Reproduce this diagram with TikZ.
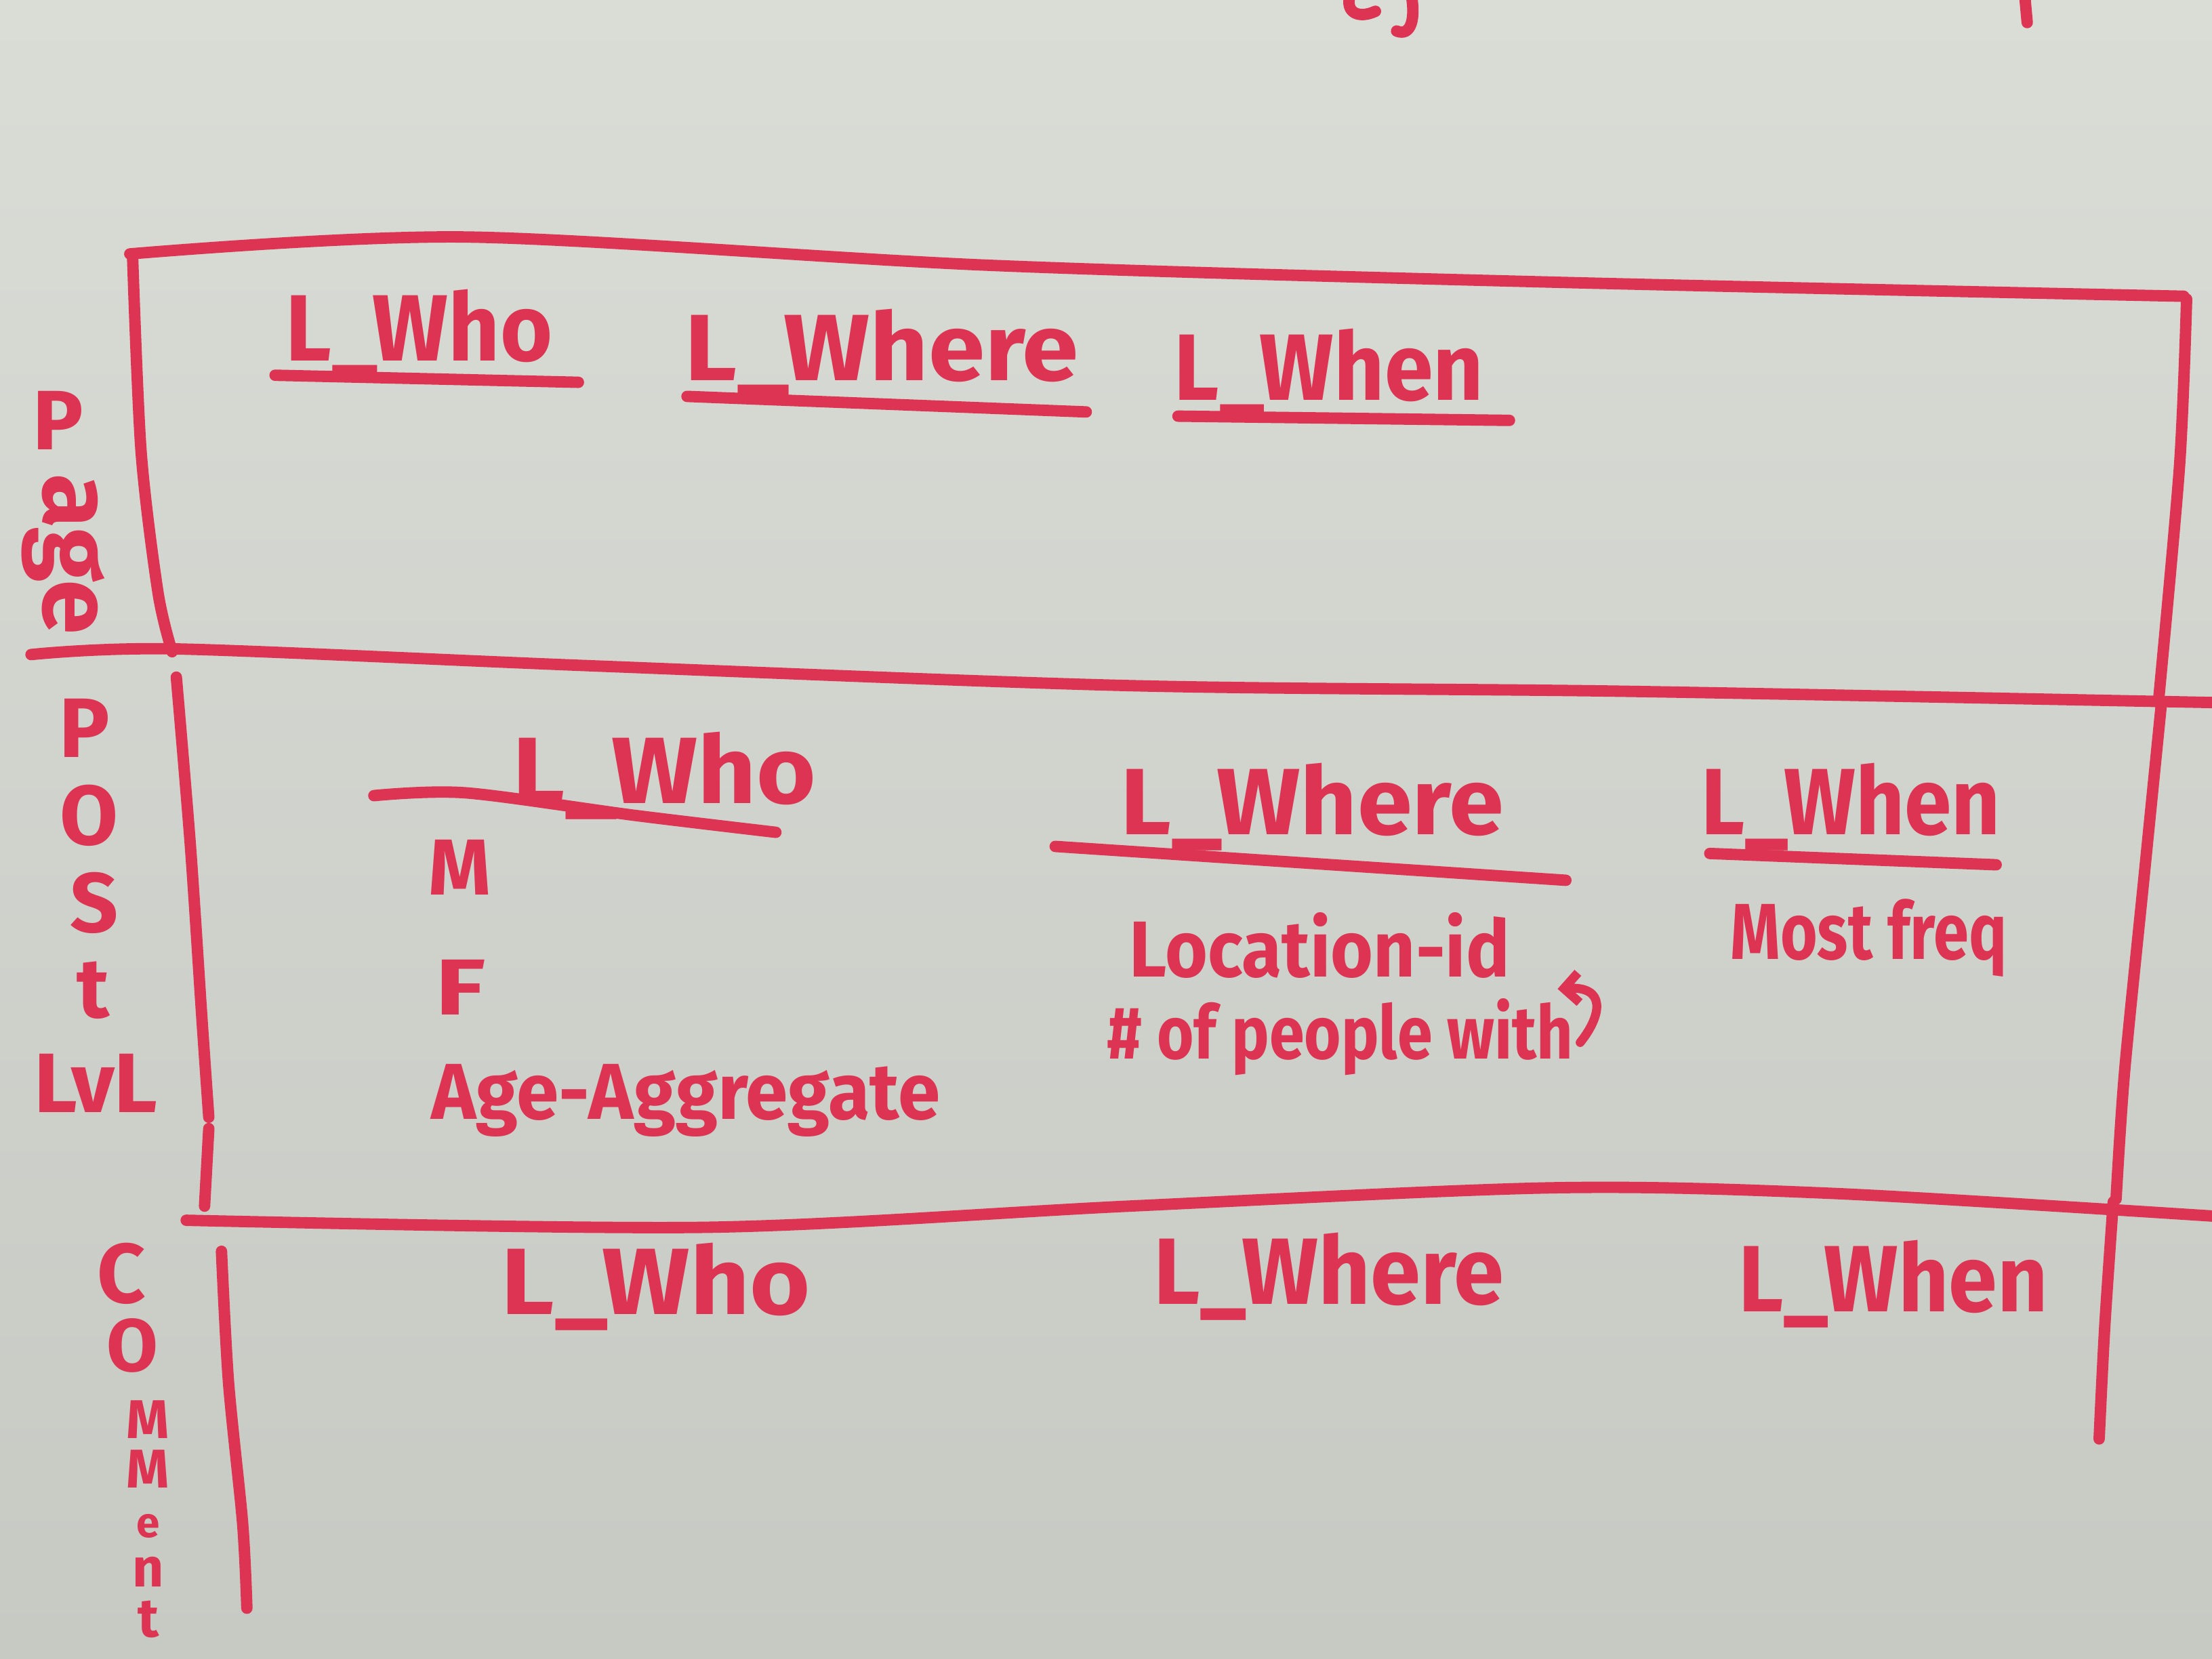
\documentclass[tikz,border=0pt]{standalone}
\usepackage{fontspec}
\setmainfont{Fira Sans}
\usetikzlibrary{arrows.meta,calc}
\definecolor{boardtop}{RGB}{218,220,214}
\definecolor{boardbot}{RGB}{198,202,195}
\definecolor{marker}{RGB}{220,52,82}
% marker lettering: size and horizontal squeeze
\newcommand\markerfont[2]{\fontsize{#1}{#1}\selectfont\bfseries\addfontfeatures{FakeStretch=#2}}
\tikzset{
  ink/.style={draw=marker, line width=2.3pt, line cap=round, line join=round},
  head/.style={text=marker, inner sep=0pt, font=\markerfont{19}{1}},
  entry/.style={text=marker, inner sep=0pt, font=\markerfont{16}{1}},
  side/.style={text=marker, inner sep=0pt, font=\markerfont{17}{1}},
}
\begin{document}
\begin{tikzpicture}[x=0.01cm, y=-0.01cm]
  % whiteboard surface
  \useasboundingbox (0,0) rectangle (1568,1176);
  \shade[top color=boardtop, bottom color=boardbot] (0,0) rectangle (1568,1176);
  \begin{scope}
    \clip (0,0) rectangle (1568,1176);
    % remains of writing above the table
    \draw[ink] (958,-6) .. controls (952,8) and (962,14) .. (975,8);
    \draw[ink] (1000,-6) .. controls (1004,14) and (1000,26) .. (990,22);
    \draw[ink] (1435,-6) -- (1437,16);
  \end{scope}

  % table frame
  \draw[ink] plot[smooth] coordinates {(92,180) (330,168) (700,188) (1100,200) (1548,210)};
  \draw[ink] plot[smooth] coordinates {(94,182) (100,320) (112,420) (122,462)};
  \draw[ink] plot[smooth] coordinates {(1550,212) (1545,330) (1530,498)};
  \draw[ink] plot[smooth] coordinates {(22,464) (125,460) (420,472) (800,486) (1150,490) (1568,498)};
  \draw[ink] plot[smooth] coordinates {(125,480) (135,600) (143,720) (148,792)};
  \draw[ink] (148,800) -- (145,855);
  \draw[ink] plot[smooth] coordinates {(1532,500) (1520,620) (1506,760) (1500,850)};
  \draw[ink] plot[smooth] coordinates {(132,865) (500,870) (800,855) (1100,842) (1300,846) (1568,862)};
  \draw[ink] plot[smooth] coordinates {(1498,852) (1492,940) (1488,1020)};
  \draw[ink] plot[smooth] coordinates {(157,887) (162,980) (172,1080) (175,1140)};

  % row labels
  \node[side] (pa1) at (41,298) {P};
  \node[side, font=\markerfont{20}{1}, rotate=-90] (pa2) at (45,393) {age};
  \node[side] (po1) at (60,516) {P};
  \node[side] (po2) at (63,578) {O};
  \node[side] (po3) at (67,640) {S};
  \node[side] (po4) at (66,702) {t};
  \node[side] (po5) at (68,768) {LvL};
  \node[side] (co1) at (86,903) {C};
  \node[side, font=\markerfont{15}{1}] (co2) at (94,954) {O};
  \node[side, align=center, anchor=north, font={\fontsize{11}{10}\selectfont\bfseries}]
    (co3) at (105,992) {M\\M\\{\fontsize{8.5}{8.5}\selectfont e}\\n\\t};

  % page level
  \node[head, font=\markerfont{19}{0.95}] (pw1) at (297,236) {L\_Who};
  \draw[ink] (195,266) -- (410,271);
  \node[head, font=\markerfont{19}{1.08}] (pw2) at (625,250) {L\_Where};
  \draw[ink] (487,281) -- (770,292);
  \node[head, font=\markerfont{19}{0.93}] (pw3) at (942,264) {L\_When};
  \draw[ink] (835,295) -- (1070,298);

  % post level
  \node[head, font=\markerfont{19}{1.08}] (sw1) at (471,550) {L\_Who};
  \draw[ink] plot[smooth] coordinates {(265,564) (330,562) (450,578) (550,590)};
  \node[entry, anchor=west] (m) at (303,615) {M};
  \node[entry, anchor=west, font=\markerfont{16}{1.3}] (f) at (308,700) {F};
  \node[entry, anchor=west, font=\markerfont{16}{0.96}] (age) at (305,780) {Age-Aggregate};

  \node[head, font=\markerfont{19}{1.05}] (sw2) at (930,572) {L\_Where};
  \draw[ink] (748,600) -- (1110,624);
  \node[entry, anchor=west, font=\markerfont{16}{0.92}] (loc) at (800,670) {Location-id};
  \node[entry, anchor=west, font=\markerfont{15}{0.85}] (ppl) at (784,735) {\# of people with};
  % hooked arrow pointing back up to the line above
  \coordinate (hookstart) at ($(ppl.east)+(4,4)$);
  \draw[ink, line width=1.8pt, -{Straight Barb[length=3pt]}] (hookstart) .. controls +(16,-20) and +(34,-2) .. ($(hookstart)+(-16,-38)$);

  \node[head, font=\markerfont{19}{0.9}] (sw3) at (1312,572) {L\_When};
  \draw[ink] (1212,605) -- (1415,613);
  \node[entry, anchor=west, font=\markerfont{16}{0.8}] (freq) at (1226,665) {Most freq};

  % comment level
  \node[head, font=\markerfont{19}{1.1}] (cw1) at (465,912) {L\_Who};
  \node[head, font=\markerfont{19}{0.96}] (cw2) at (942,905) {L\_Where};
  \node[head, font=\markerfont{19}{0.93}] (cw3) at (1342,910) {L\_When};
\end{tikzpicture}
\end{document}
